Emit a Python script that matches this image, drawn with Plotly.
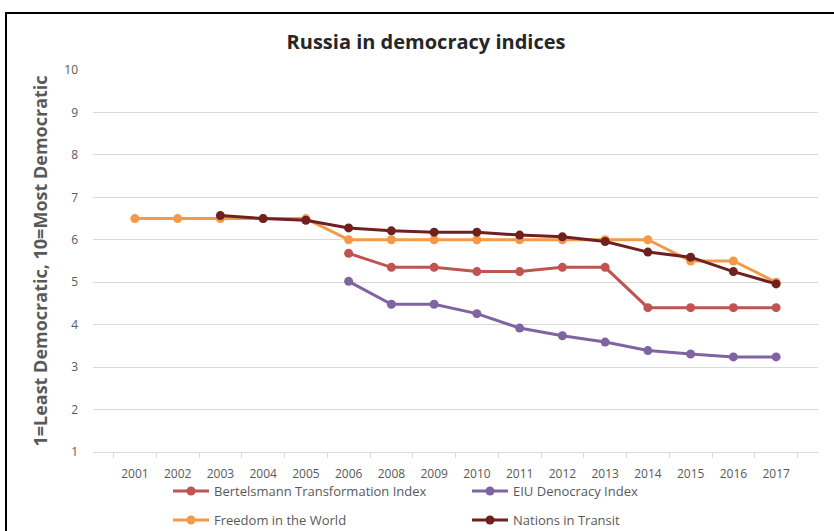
import plotly.graph_objects as go

years = ["2001", "2002", "2003", "2004", "2005", "2006", "2008", "2009", "2010",
         "2011", "2012", "2013", "2014", "2015", "2016", "2017"]

bertelsmann = [None, None, None, None, None, 5.68, 5.35, 5.35, 5.25, 5.25, 5.35, 5.35, 4.40, 4.40, 4.40, 4.40]
eiu = [None, None, None, None, None, 5.02, 4.48, 4.48, 4.26, 3.92, 3.74, 3.59, 3.39, 3.31, 3.24, 3.24]
freedom = [6.5, 6.5, 6.5, 6.5, 6.5, 6.0, 6.0, 6.0, 6.0, 6.0, 6.0, 6.0, 6.0, 5.5, 5.5, 5.0]
nit = [None, None, 6.57, 6.50, 6.46, 6.28, 6.21, 6.18, 6.18, 6.11, 6.07, 5.96, 5.71, 5.59, 5.25, 4.96]

series = [
    ("Bertelsmann Transformation Index", bertelsmann, "#BE5550", "legend"),
    ("EIU Denocracy Index", eiu, "#8064A2", "legend"),
    ("Freedom in the World", freedom, "#F39A4A", "legend2"),
    ("Nations in Transit", nit, "#70201F", "legend2"),
]

fig = go.Figure()
for name, vals, color, lg in series:
    fig.add_trace(go.Scatter(
        x=years, y=vals, name=name, mode="lines+markers",
        line=dict(color=color, width=3),
        marker=dict(color=color, size=9),
        legend=lg,
    ))

W, H = 834, 531
ml, mr, mt, mb = 93, 16, 70, 79
pw = W - ml - mr
ph = H - mt - mb

def px(x):
    return (x - ml) / pw

def py(y):
    return (H - mb - y) / ph

font_fam = "Open Sans"
leg_common = dict(orientation="h", x=px(168), xanchor="left", yanchor="middle",
                  entrywidth=248, font=dict(size=13, color="#595959"),
                  bgcolor="rgba(0,0,0,0)", itemwidth=36)
fig.update_layout(
    width=W, height=H,
    margin=dict(l=ml, r=mr, t=mt, b=mb, autoexpand=False),
    paper_bgcolor="white", plot_bgcolor="white",
    title=dict(text="<b>Russia in democracy indices</b>", x=426 / W, xanchor="center",
               y=1 - 42 / H, yanchor="middle",
               font=dict(family=font_fam, size=20, color="#262626")),
    font=dict(family=font_fam, color="#595959"),
    xaxis=dict(type="category", showgrid=False, showline=True, linecolor="#D9D9D9",
               linewidth=1, ticks="outside", tickson="boundaries", ticklen=5,
               tickcolor="#D9D9D9", ticklabelstandoff=11,
               tickfont=dict(size=12, color="#595959")),
    yaxis=dict(range=[1, 10], dtick=1, showgrid=True, gridcolor="#D9D9D9", gridwidth=1,
               zeroline=False, showline=False, ticks="", ticklabelstandoff=14,
               tickfont=dict(size=12, color="#595959"),
               title=dict(text="<b>1=Least Democratic, 10=Most Democratic</b>",
                          font=dict(size=18, color="#595959"), standoff=11)),
    legend=dict(y=py(491), **leg_common),
    legend2=dict(y=py(520), **leg_common),
    shapes=[dict(type="rect", xref="paper", yref="paper",
                 x0=px(6), x1=px(900), y0=py(600), y1=py(13),
                 line=dict(color="black", width=2), fillcolor="rgba(0,0,0,0)", layer="below")],
)

fig.write_html("out.html")
